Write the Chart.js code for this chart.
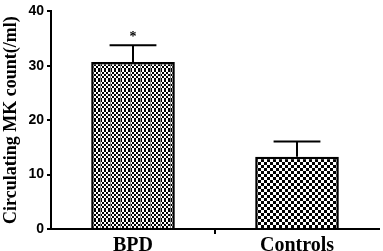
<!DOCTYPE html>
<html>
<head>
<meta charset="utf-8">
<script src="https://cdn.jsdelivr.net/npm/chart.js@4"></script>
<style>
  body { margin: 0; background: #fff; }
  #wrap { width: 383px; height: 251px; }
</style>
</head>
<body>
<div id="wrap"><canvas id="mkChart"></canvas></div>
<script>
const labels = ["BPD", "Controls"];
const means = [30.7, 13.3];
const errors = [3.1, 2.8];
const marks = ["*", ""];
const yTicks = [0, 10, 20, 30, 40];

// checker patterns for the two bars
function checker(size, tile, stripe) {
  const c = document.createElement("canvas");
  c.width = tile; c.height = tile;
  const g = c.getContext("2d");
  g.fillStyle = "#fff";
  g.fillRect(0, 0, tile, tile);
  g.fillStyle = "#000";
  for (let y = 0; y < tile; y += size) {
    for (let x = 0; x < tile; x += size) {
      if (((x + y) / size) % 2 === 0) g.fillRect(x, y, size, size);
    }
  }
  if (stripe) {
    g.fillStyle = "#888";
    g.fillRect(0, 0, 1, tile);
  }
  return g.createPattern(c, "repeat");
}

const ctxEl = document.getElementById("mkChart");
const fills = [checker(2, 10, true), checker(3, 6, false)];

// error bars + significance mark
const errorBars = {
  id: "errorBars",
  afterDatasetsDraw(chart) {
    const g = chart.ctx;
    const y = chart.scales.y;
    const meta = chart.getDatasetMeta(0);
    g.save();
    g.strokeStyle = "#000";
    g.lineWidth = 2;
    meta.data.forEach((bar, i) => {
      const top = y.getPixelForValue(means[i] + errors[i]);
      const half = bar.width * 0.28;
      g.beginPath();
      g.moveTo(bar.x, bar.y);
      g.lineTo(bar.x, top);
      g.moveTo(bar.x - half, top);
      g.lineTo(bar.x + half, top);
      g.stroke();
      if (marks[i]) {
        g.fillStyle = "#000";
        g.font = "bold 14px 'Liberation Serif'";
        g.textAlign = "center";
        g.textBaseline = "bottom";
        g.fillText(marks[i], bar.x, top - 1);
      }
    });
    g.restore();
  }
};

const data = {
  labels: labels,
  datasets: [
    {
      data: means,
      backgroundColor: fills,
      borderColor: "#000",
      borderWidth: 2.5,
      borderSkipped: "bottom",
      barPercentage: 0.51,
      categoryPercentage: 1,
    },
  ],
};

const config = {
  type: "bar",
  data: data,
  plugins: [errorBars],
  options: {
    responsive: true,
    maintainAspectRatio: false,
    animation: false,
    layout: { padding: { top: 0, right: 4, left: 1, bottom: 0 } },
    plugins: {
      legend: { display: false },
      tooltip: { enabled: false },
    },
    scales: {
      x: {
        offset: true,
        grid: {
          offset: true,
          drawOnChartArea: false,
          tickLength: 5,
          lineWidth: 2,
          color: (c) => (c.index === 1 ? "#000" : "rgba(0,0,0,0)"),
        },
        border: { color: "#000", width: 2 },
        ticks: {
          color: "#000",
          padding: 0,
          font: { family: "Liberation Serif", weight: "bold", size: 20 },
        },
        afterFit(scale) { scale.height = 22; },
      },
      y: {
        min: 0,
        max: 40,
        afterBuildTicks(scale) { scale.ticks = yTicks.map((v) => ({ value: v })); },
        grid: { drawOnChartArea: false, tickLength: 4, lineWidth: 2, color: "#000" },
        border: { color: "#000", width: 2 },
        ticks: {
          color: "#000",
          padding: 3,
          font: { family: "Liberation Sans", weight: "bold", size: 14 },
        },
        title: {
          display: true,
          text: "Circulating MK count(/ml)",
          color: "#000",
          padding: 0,
          font: { family: "Liberation Serif", weight: "bold", size: 18 },
        },
        afterFit(scale) { scale.width = 50; },
      },
    },
  },
};

let myChart = new Chart(ctxEl, config);
</script>
</body>
</html>
